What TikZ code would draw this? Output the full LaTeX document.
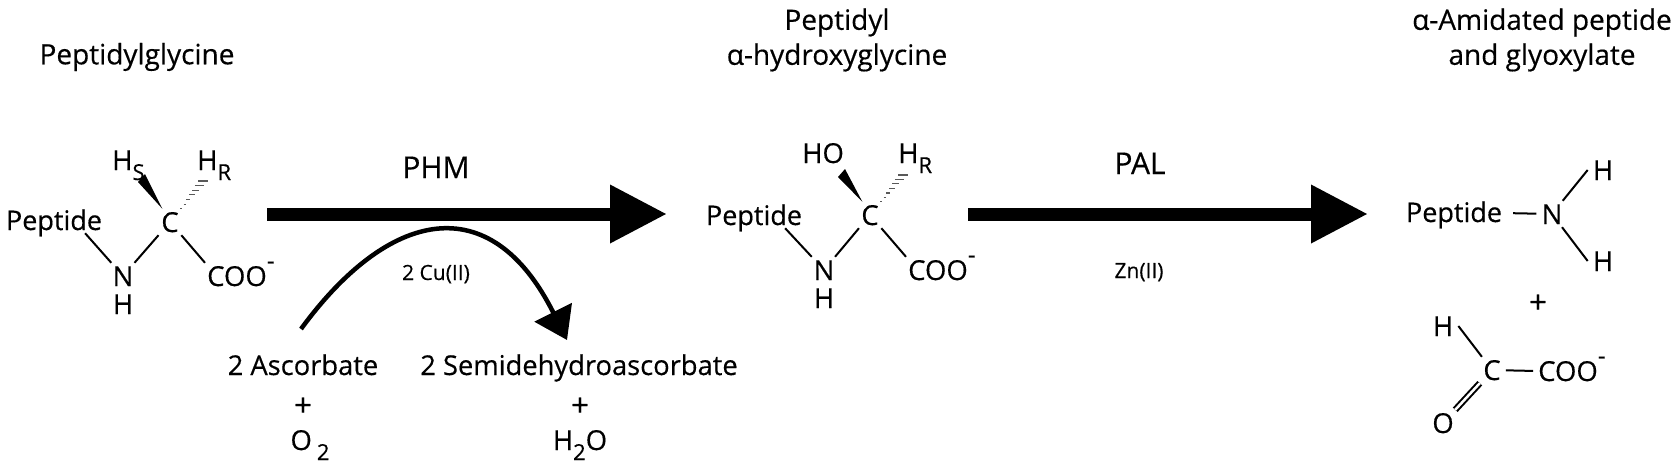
\documentclass[tikz,border=0pt]{standalone}
\usepackage{fontspec}
\setmainfont[RawFeature={embolden=0.4}]{Open Sans}
\usepackage{tikz}
\usetikzlibrary{arrows.meta, calc}
\newcommand{\sizedtext}[1]{\fontsize{#1}{#1}\selectfont}
\newcommand{\subatom}[1]{{\sizedtext{22}\raisebox{-10pt}{#1}}}
\newcommand{\cooion}{COO\smash{\sizedtext{24}\raisebox{17pt}{-}}}
% hashed bond: short level strokes that widen away from the carbon
\newcommand{\hashbond}[2]{%
    \foreach \t/\w in {0/0.6,0.17/1.2,0.33/2,0.5/2.8,0.67/3.6,0.83/4.4,1/5}
        \draw[hashline] ($(#1)!\t!(#2)+(-\w,0)$) -- ($(#1)!\t!(#2)+(\w,0)$);}
\tikzset{
    txt/.style={font=\sizedtext{27.3}, inner sep=0pt, anchor=base},
    small/.style={font=\sizedtext{21}, inner sep=0pt, anchor=base},
    enzyme/.style={font=\sizedtext{30}, inner sep=0pt, anchor=base},
    title/.style={font=\sizedtext{28}, inner sep=0pt, align=center},
    plussign/.style={font=\sizedtext{31}, inner sep=0pt, anchor=base},
    atom/.style={font=\sizedtext{27.5}, text height=20pt, text depth=0pt, inner xsep=5pt, inner ysep=3pt},
    coo/.style={atom, inner xsep=2pt, anchor=west},
    bond/.style={line width=2pt},
    hashline/.style={line width=1.1pt, black!65},
    fatarrow/.style={line width=13pt, -{Triangle[length=57pt,width=55pt]}},
    cofarrow/.style={line width=4.5pt, -{Triangle[length=31pt,width=41pt]}}
}
\begin{document}
\begin{tikzpicture}[x=1pt,y=-1pt]
    \useasboundingbox (0,0) rectangle (1677,469);
    % Titles
    \node[title] (gly) at (137,57) {Peptidylglycine};
    \node[title] (hyd) at (837,40) {Peptidyl\\[7pt]α-hydroxyglycine};
    \node[title] (ami) at (1542,40) {α-Amidated peptide\\[7pt]and glyoxylate};

    % Peptidylglycine
    \node[atom, font=\sizedtext{27}] (pep1) at (54,220) {Peptide};
    \node[atom] (c1) at (170,222) {C};
    \node[atom] (n1) at (123,276) {N};
    \node[atom] (hn1) at (123,304) {H};
    \node[coo] (coo1) at (205,276) {\cooion};
    \node[atom, inner sep=0pt, anchor=base west] (hs1) at (112,170) {H\subatom{S}};
    \node[atom, inner sep=0pt, anchor=base west] (hr1) at (197,170) {H\subatom{R}};
    \coordinate (hs1a) at (138,182);
    \coordinate (hs1b) at (145,174);
    \coordinate (hr1end) at (203,181);
    \draw[bond] (pep1.-23) -- (n1);
    \draw[bond] (n1) -- (c1);
    \draw[bond] (c1) -- (coo1.north west);
    \fill (c1.120) -- (hs1a) -- (hs1b) -- cycle;
    \hashbond{c1.50}{hr1end}

    % Peptidyl alpha-hydroxyglycine
    \node[atom, font=\sizedtext{27}] (pep2) at (754,215) {Peptide};
    \node[atom] (c2) at (870,215) {C};
    \node[atom] (n2) at (824,270) {N};
    \node[atom] (hn2) at (824,298) {H};
    \node[coo] (coo2) at (906,270) {\cooion};
    \node[atom, inner sep=0pt, anchor=base west] (ho2) at (802,163) {HO};
    \node[atom, inner sep=0pt, anchor=base west] (hr2) at (898,163) {H\subatom{R}};
    \coordinate (ho2a) at (838,177);
    \coordinate (ho2b) at (845,169);
    \coordinate (hr2end) at (903,175);
    \draw[bond] (pep2.-23) -- (n2);
    \draw[bond] (n2) -- (c2);
    \draw[bond] (c2) -- (coo2.north west);
    \fill (c2.120) -- (ho2a) -- (ho2b) -- cycle;
    \hashbond{c2.50}{hr2end}

    % Amidated peptide and glyoxylate
    \node[atom, font=\sizedtext{27}] (pep3) at (1454,212) {Peptide};
    \node[atom] (n3) at (1552,214) {N};
    \node[atom] (h3a) at (1603,170) {H};
    \node[atom] (h3b) at (1603,261) {H};
    \node[plussign] (plus3) at (1538,313) {+};
    \node[atom] (hg) at (1443,326) {H};
    \node[atom] (cg) at (1492,370) {C};
    \node[atom] (og) at (1443,423) {O};
    \node[coo] (coog) at (1536,371) {\cooion};
    \draw[bond, shorten <=6pt] (pep3) -- (n3);
    \draw[bond] (n3) -- (h3a.west);
    \draw[bond] (n3) -- (h3b.west);
    \draw[bond] (hg.east) -- (cg);
    \draw[bond, shorten >=3pt] (cg) -- (coog.west);
    \draw[bond, double, double distance=2.5pt] (cg) -- (og);

    % Reaction arrows
    \coordinate (phmtail) at (267,214);
    \coordinate (phmtip) at (667,214);
    \coordinate (paltail) at (968,214);
    \coordinate (paltip) at (1368,214);
    \draw[fatarrow] (phmtail) -- (phmtip);
    \draw[fatarrow] (paltail) -- (paltip);
    \node[enzyme] (phm) at (436,178) {PHM};
    \node[enzyme] (pal) at (1140,174) {PAL};
    \node[small] (cu) at (436,280) {2 Cu(II)};
    \node[small] (zn) at (1139,278) {Zn(II)};

    % Cofactors
    \node[txt] (asc) at (303,375) {2 Ascorbate};
    \node[txt] (semi) at (579,375) {2 Semidehydroascorbate};
    \node[plussign] (plusa) at (303,416) {+};
    \node[plussign] (pluss) at (580,416) {+};
    \node[atom, inner sep=0pt, anchor=base] (oxy) at (310,450) {O\hspace{5pt}\subatom{2}};
    \node[atom, inner sep=0pt, anchor=base] (wat) at (580,450) {H\subatom{2}O};
    \coordinate (ascout) at (301,329);
    \coordinate (semiin) at (567,340);
    \draw[cofarrow] (ascout) .. controls (388,210) and (490,186) .. (semiin);
\end{tikzpicture}
\end{document}
